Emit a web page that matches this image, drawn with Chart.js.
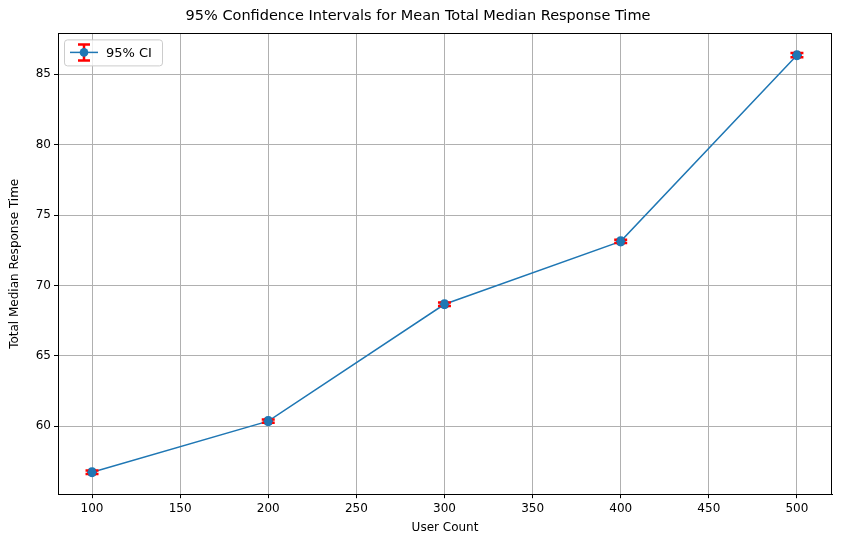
<!DOCTYPE html>
<html>
<head>
<meta charset="utf-8">
<script src="https://cdn.jsdelivr.net/npm/chart.js@4"></script>
<style>
  html, body { margin: 0; padding: 0; background: #fff; }
  #wrap { width: 841px; height: 547px; }
</style>
</head>
<body>
<div id="wrap"><canvas id="chart"></canvas></div>
<script>
const userCounts = [100, 200, 300, 400, 500];
const meanTimes = [56.73, 60.36, 68.66, 73.13, 86.35];
const ciHalf = [0.12, 0.12, 0.12, 0.12, 0.15];
const xTicks = [100, 150, 200, 250, 300, 350, 400, 450, 500];
const yTicks = [60, 65, 70, 75, 80, 85];

// error bars in red, drawn through the scales
const errorBars = {
  id: 'errorBars',
  afterDatasetsDraw(chart) {
    const { ctx, chartArea: a, scales: { x, y } } = chart;
    ctx.save();
    // full frame like matplotlib
    ctx.strokeStyle = '#000';
    ctx.lineWidth = 1;
    ctx.strokeRect(Math.round(a.left) + 0.5, Math.round(a.top) + 0.5,
      Math.round(a.right - a.left) - 1, Math.round(a.bottom - a.top));
    ctx.strokeStyle = '#ff0000';
    ctx.lineWidth = 2.5;
    userCounts.forEach((u, i) => {
      const px = x.getPixelForValue(u);
      const top = y.getPixelForValue(meanTimes[i] + ciHalf[i]);
      const bot = y.getPixelForValue(meanTimes[i] - ciHalf[i]);
      ctx.beginPath();
      ctx.moveTo(px, top); ctx.lineTo(px, bot);
      ctx.moveTo(px - 6.5, top); ctx.lineTo(px + 6.5, top);
      ctx.moveTo(px - 6.5, bot); ctx.lineTo(px + 6.5, bot);
      ctx.stroke();
    });
    // redraw markers on top
    const meta = chart.getDatasetMeta(0);
    meta.data.forEach(p => {
      ctx.beginPath();
      ctx.fillStyle = '#1f77b4';
      ctx.arc(p.x, p.y, 4.3, 0, Math.PI * 2);
      ctx.fill();
    });
    ctx.restore();
  }
};

// matplotlib-like legend box in the upper left
const boxLegend = {
  id: 'boxLegend',
  afterDraw(chart) {
    const { ctx, chartArea: a } = chart;
    const x0 = a.left + 6, y0 = a.top + 6;
    ctx.save();
    ctx.fillStyle = 'rgba(255,255,255,0.8)';
    ctx.strokeStyle = '#cccccc';
    ctx.lineWidth = 1;
    ctx.beginPath();
    ctx.roundRect(x0 + 0.5, y0 + 0.5, 98, 26, 3);
    ctx.fill(); ctx.stroke();
    const cy = y0 + 13, cx = x0 + 20;
    ctx.strokeStyle = '#1f77b4'; ctx.lineWidth = 1.5;
    ctx.beginPath(); ctx.moveTo(x0 + 6, cy); ctx.lineTo(x0 + 34, cy); ctx.stroke();
    ctx.strokeStyle = '#ff0000'; ctx.lineWidth = 2.5;
    ctx.beginPath();
    ctx.moveTo(cx, cy - 8); ctx.lineTo(cx, cy + 8);
    ctx.moveTo(cx - 6, cy - 8); ctx.lineTo(cx + 6, cy - 8);
    ctx.moveTo(cx - 6, cy + 8); ctx.lineTo(cx + 6, cy + 8);
    ctx.stroke();
    ctx.fillStyle = '#1f77b4';
    ctx.beginPath(); ctx.arc(cx, cy, 4.3, 0, Math.PI * 2); ctx.fill();
    ctx.fillStyle = '#000';
    ctx.font = '13px "DejaVu Sans"';
    ctx.textBaseline = 'middle';
    ctx.fillText('95% CI', x0 + 42, cy + 1);
    ctx.restore();
  }
};

const font = { family: 'DejaVu Sans', size: 12 };

new Chart(document.getElementById('chart'), {
  type: 'line',
  data: {
    datasets: [{
      label: '95% CI',
      data: userCounts.map((u, i) => ({ x: u, y: meanTimes[i] })),
      borderColor: '#1f77b4',
      backgroundColor: '#1f77b4',
      borderWidth: 1.5,
      pointRadius: 4.3,
      tension: 0
    }]
  },
  options: {
    responsive: true,
    maintainAspectRatio: false,
    animation: false,
    layout: { padding: { top: 6, right: 9, bottom: 8, left: 4 } },
    plugins: {
      legend: { display: false },
      tooltip: { enabled: false },
      title: {
        display: true,
        text: '95% Confidence Intervals for Mean Total Median Response Time',
        color: '#000',
        font: { family: 'DejaVu Sans', size: 14.5, weight: 'normal' },
        padding: { top: 2, bottom: 8 }
      }
    },
    scales: {
      x: {
        type: 'linear',
        min: 80.7, max: 519.9,
        afterBuildTicks: s => { s.ticks = xTicks.map(v => ({ value: v })); },
        ticks: { color: '#000', font, maxRotation: 0 },
        grid: { color: '#b0b0b0', lineWidth: 1, drawTicks: true, tickLength: 4, tickColor: '#000' },
        border: { color: '#000' },
        title: { display: true, text: 'User Count', color: '#000', font, padding: { top: 2 } }
      },
      y: {
        min: 55.17, max: 87.9,
        afterBuildTicks: s => { s.ticks = yTicks.map(v => ({ value: v })); },
        afterFit: s => { s.width = 54; },
        ticks: { color: '#000', font },
        grid: { color: '#b0b0b0', lineWidth: 1, tickLength: 4, tickColor: '#000' },
        border: { color: '#000' },
        title: { display: true, text: 'Total Median Response Time', color: '#000', font, padding: { bottom: 4 } }
      }
    }
  },
  plugins: [errorBars, boxLegend]
});
</script>
</body>
</html>
